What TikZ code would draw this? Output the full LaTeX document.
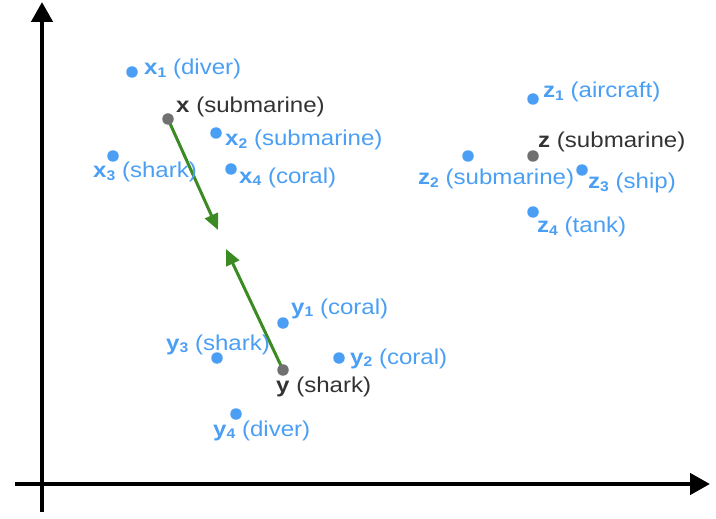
\documentclass[tikz,border=0pt]{standalone}
\usepackage{fontspec}
\setmainfont{Liberation Sans}[FakeStretch=1.12]
\usetikzlibrary{arrows.meta}
\definecolor{ptblue}{HTML}{4A9FF5}
\definecolor{ptgray}{HTML}{707070}
\definecolor{txtdark}{HTML}{333333}
\definecolor{arrgreen}{HTML}{3B8A23}
\newcommand\lbl[3]{\textbf{#1}\raisebox{-2.5pt}{\fontsize{14}{14}\selectfont\bfseries #2}\ #3}
\tikzset{
  dotb/.style={circle, fill=ptblue, inner sep=0pt, minimum size=11.5pt},
  dotg/.style={circle, fill=ptgray, inner sep=0pt, minimum size=11.5pt},
  lab/.style={anchor=base west, inner sep=0pt, text=ptblue, font=\fontsize{21.5}{24}\selectfont},
  labd/.style={lab, text=txtdark},
  axis/.style={line width=4.5pt, -{Triangle[length=20pt,width=21pt]}},
  garrow/.style={arrgreen, line width=3pt, -{Triangle[length=16pt,width=14pt]}}
}
\begin{document}
\begin{tikzpicture}[x=1pt,y=-1pt]
\useasboundingbox (0,0) rectangle (716,519);
% axes
\coordinate (vb) at (42,512);
\coordinate (vt) at (42,2);
\coordinate (hl) at (15,484);
\coordinate (hr) at (710,484);
\draw[axis] (vb) -- (vt);
\draw[axis] (hl) -- (hr);
% arrow tips
\coordinate (ta) at (218,230);
\coordinate (tb) at (226,249);
\coordinate (xc) at (168,119);
\coordinate (yc) at (283,370);
\draw[garrow] (xc) -- (ta);
\draw[garrow] (yc) -- (tb);
% x cluster
\node[dotb] (x1) at (132,72) {};
\node[dotg] (x) at (xc) {};
\node[dotb] (x2) at (216,133) {};
\node[dotb] (x3) at (113,156) {};
\node[dotb] (x4) at (231,169) {};
\node[lab] (lx1) at (144,75) {\lbl{x}{1}{(diver)}};
\node[labd] (lx) at (176,113) {\textbf{x} (submarine)};
\node[lab] (lx2) at (225,146) {\lbl{x}{2}{(submarine)}};
\node[lab] (lx3) at (93,178) {\lbl{x}{3}{(shark)}};
\node[lab] (lx4) at (239,183) {\lbl{x}{4}{(coral)}};
% z cluster
\node[dotb] (z1) at (533,99) {};
\node[dotg] (z) at (533,156) {};
\node[dotb] (z2) at (468,156) {};
\node[dotb] (z3) at (582,170) {};
\node[dotb] (z4) at (533,212) {};
\node[lab] (lz1) at (543,98) {\lbl{z}{1}{(aircraft)}};
\node[labd] (lz) at (538,148) {\textbf{z} (submarine)};
\node[lab] (lz2) at (418,185) {\lbl{z}{2}{(submarine)}};
\node[lab] (lz3) at (588,189) {\lbl{z}{3}{(ship)}};
\node[lab] (lz4) at (537,233) {\lbl{z}{4}{(tank)}};
% y cluster
\node[dotb] (y1) at (283,323) {};
\node[dotb] (y2) at (339,358) {};
\node[dotb] (y3) at (217,358) {};
\node[dotg] (y) at (yc) {};
\node[dotb] (y4) at (236,414) {};
\node[lab] (ly1) at (291,314) {\lbl{y}{1}{(coral)}};
\node[lab] (ly2) at (350,364) {\lbl{y}{2}{(coral)}};
\node[lab] (ly3) at (166,350) {\lbl{y}{3}{(shark)}};
\node[labd] (ly) at (276,392) {\textbf{y} (shark)};
\node[lab] (ly4) at (213,436) {\lbl{y}{4}{(diver)}};
\end{tikzpicture}
\end{document}
